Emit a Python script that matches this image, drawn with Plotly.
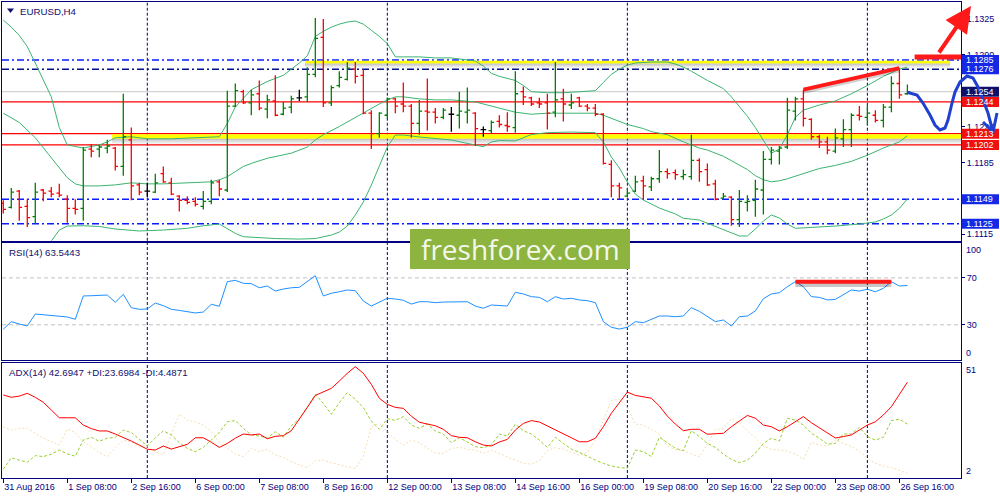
import plotly.graph_objects as go

# ---------------- data ----------------
n_bars = 114
bar_index = list(range(n_bars))
time_tick_bars = [0, 8, 16, 24, 32, 40, 48, 56, 64, 72, 80, 88, 96, 104, 112]
time_tick_labels = ["31 Aug 2016", "1 Sep 08:00", "2 Sep 16:00", "6 Sep 00:00", "7 Sep 08:00",
                    "8 Sep 16:00", "12 Sep 00:00", "13 Sep 08:00", "14 Sep 16:00", "16 Sep 00:00",
                    "19 Sep 08:00", "20 Sep 16:00", "22 Sep 00:00", "23 Sep 08:00", "26 Sep 16:00"]
week_separator_bars = [18, 48, 78, 108]

open_prices = [
    1.1145, 1.1141, 1.1157, 1.1142, 1.1132, 1.1158, 1.1157, 1.1155, 1.1149, 1.1140,
    1.1140, 1.1198, 1.1198, 1.1199, 1.1199, 1.1181, 1.1207, 1.1163, 1.1157, 1.1156,
    1.1174, 1.1165, 1.1152, 1.1148, 1.1147, 1.1142, 1.1147, 1.1166, 1.1158, 1.1240,
    1.1254, 1.1243, 1.1252, 1.1237, 1.1245, 1.1232, 1.1239, 1.1248, 1.1249, 1.1271,
    1.1307, 1.1243, 1.1260, 1.1266, 1.1276, 1.1270, 1.1233, 1.1213, 1.1231, 1.1247,
    1.1242, 1.1240, 1.1223, 1.1235, 1.1234, 1.1229, 1.1232, 1.1231, 1.1234, 1.1233,
    1.1217, 1.1216, 1.1225, 1.1221, 1.1219, 1.1254, 1.1248, 1.1243, 1.1243, 1.1234,
    1.1247, 1.1241, 1.1248, 1.1240, 1.1238, 1.1232, 1.1183, 1.1162, 1.1152, 1.1157,
    1.1167, 1.1161, 1.1169, 1.1176, 1.1175, 1.1171, 1.1171, 1.1187, 1.1178, 1.1164,
    1.1150, 1.1151, 1.1129, 1.1146, 1.1148, 1.1158, 1.1188, 1.1196, 1.1200, 1.1235,
    1.1247, 1.1227, 1.1210, 1.1205, 1.1196, 1.1208, 1.1217, 1.1231, 1.1229, 1.1231,
    1.1226, 1.1239, 1.1262, 1.1252]
high_prices = [
    1.1148, 1.1160, 1.1158, 1.1149, 1.1165, 1.1159, 1.1161, 1.1164, 1.1153, 1.1149,
    1.1200, 1.1203, 1.1202, 1.1207, 1.1200, 1.1252, 1.1219, 1.1165, 1.1165, 1.1174,
    1.1181, 1.1170, 1.1153, 1.1152, 1.1151, 1.1157, 1.1168, 1.1168, 1.1255, 1.1262,
    1.1256, 1.1256, 1.1265, 1.1251, 1.1270, 1.1244, 1.1250, 1.1256, 1.1278, 1.1326,
    1.1325, 1.1260, 1.1274, 1.1283, 1.1283, 1.1276, 1.1236, 1.1234, 1.1248, 1.1248,
    1.1263, 1.1242, 1.1246, 1.1267, 1.1238, 1.1238, 1.1239, 1.1254, 1.1258, 1.1234,
    1.1220, 1.1226, 1.1231, 1.1234, 1.1274, 1.1259, 1.1249, 1.1248, 1.1252, 1.1283,
    1.1257, 1.1252, 1.1249, 1.1242, 1.1242, 1.1233, 1.1187, 1.1165, 1.1160, 1.1172,
    1.1172, 1.1171, 1.1197, 1.1179, 1.1178, 1.1178, 1.1212, 1.1189, 1.1184, 1.1168,
    1.1155, 1.1152, 1.1158, 1.1153, 1.1168, 1.1196, 1.1200, 1.1201, 1.1248, 1.1249,
    1.1256, 1.1228, 1.1212, 1.1210, 1.1218, 1.1227, 1.1233, 1.1240, 1.1241, 1.1236,
    1.1242, 1.1269, 1.1277, 1.1261]
low_prices = [
    1.1135, 1.1140, 1.1128, 1.1122, 1.1125, 1.1147, 1.1151, 1.1151, 1.1126, 1.1134,
    1.1128, 1.1190, 1.1190, 1.1194, 1.1177, 1.1172, 1.1148, 1.1153, 1.1151, 1.1155,
    1.1165, 1.1153, 1.1137, 1.1144, 1.1142, 1.1139, 1.1144, 1.1152, 1.1156, 1.1239,
    1.1242, 1.1231, 1.1236, 1.1228, 1.1230, 1.1231, 1.1233, 1.1245, 1.1244, 1.1268,
    1.1239, 1.1240, 1.1258, 1.1265, 1.1262, 1.1232, 1.1198, 1.1209, 1.1228, 1.1233,
    1.1234, 1.1209, 1.1212, 1.1216, 1.1223, 1.1227, 1.1215, 1.1218, 1.1223, 1.1201,
    1.1210, 1.1213, 1.1219, 1.1215, 1.1214, 1.1241, 1.1240, 1.1238, 1.1217, 1.1229,
    1.1225, 1.1237, 1.1239, 1.1235, 1.1230, 1.1183, 1.1151, 1.1149, 1.1151, 1.1156,
    1.1149, 1.1157, 1.1165, 1.1169, 1.1168, 1.1168, 1.1168, 1.1166, 1.1162, 1.1148,
    1.1149, 1.1123, 1.1122, 1.1137, 1.1132, 1.1134, 1.1183, 1.1183, 1.1198, 1.1226,
    1.1220, 1.1207, 1.1199, 1.1193, 1.1194, 1.1200, 1.1200, 1.1226, 1.1222, 1.1224,
    1.1219, 1.1234, 1.1247, 1.1251]
close_prices = [
    1.1139, 1.1156, 1.1141, 1.1131, 1.1156, 1.1155, 1.1154, 1.1153, 1.1140, 1.1139,
    1.1197, 1.1196, 1.1200, 1.1201, 1.1181, 1.1210, 1.1162, 1.1156, 1.1157, 1.1165,
    1.1166, 1.1154, 1.1148, 1.1146, 1.1144, 1.1147, 1.1165, 1.1159, 1.1240, 1.1255,
    1.1243, 1.1251, 1.1238, 1.1246, 1.1231, 1.1238, 1.1247, 1.1248, 1.1271, 1.1306,
    1.1243, 1.1258, 1.1268, 1.1277, 1.1269, 1.1233, 1.1213, 1.1233, 1.1247, 1.1240,
    1.1240, 1.1223, 1.1235, 1.1234, 1.1229, 1.1236, 1.1232, 1.1235, 1.1236, 1.1218,
    1.1217, 1.1224, 1.1222, 1.1220, 1.1252, 1.1249, 1.1242, 1.1242, 1.1233, 1.1246,
    1.1242, 1.1243, 1.1240, 1.1238, 1.1232, 1.1184, 1.1162, 1.1160, 1.1155, 1.1166,
    1.1162, 1.1169, 1.1176, 1.1174, 1.1173, 1.1173, 1.1187, 1.1176, 1.1163, 1.1149,
    1.1152, 1.1129, 1.1147, 1.1147, 1.1159, 1.1188, 1.1197, 1.1199, 1.1236, 1.1247,
    1.1228, 1.1210, 1.1205, 1.1197, 1.1209, 1.1217, 1.1231, 1.1230, 1.1233, 1.1226,
    1.1239, 1.1262, 1.1251, 1.1254]

bb_upper_bars = [0, 1, 2, 3, 4, 5, 6, 7, 8, 10, 12, 13, 14, 16, 18, 21, 25, 27, 28, 29,
                 31, 33, 35, 37, 38, 39, 40, 41, 42, 43, 44, 45, 46, 47, 48, 49, 50,
                 52, 54, 56, 59, 60, 61, 62, 64, 65, 66, 68, 70, 73, 74, 75, 76, 77, 78, 79,
                 81, 83, 84, 85, 86, 88, 90, 91, 92, 93, 94, 95, 96, 97, 98, 99, 100,
                 102, 104, 106, 108, 110, 112, 113]
bb_upper = [1.1324, 1.1317, 1.1309, 1.1298, 1.1282, 1.1265, 1.1249, 1.1219, 1.1202,
            1.1199, 1.1202, 1.1205, 1.1209, 1.1210, 1.1208, 1.1208, 1.1209, 1.1210, 1.1223, 1.1239,
            1.1256, 1.1264, 1.1270, 1.1282, 1.1289, 1.1308, 1.1313, 1.1317, 1.1320, 1.1322, 1.1323,
            1.1320, 1.1314, 1.1308, 1.1301, 1.1288, 1.1288,
            1.1288, 1.1287, 1.1287, 1.1284, 1.1279, 1.1272, 1.1269, 1.1265, 1.1260, 1.1254, 1.1253,
            1.1253, 1.1254, 1.1255, 1.1263, 1.1271, 1.1276, 1.1280, 1.1282,
            1.1283, 1.1283, 1.1281, 1.1278, 1.1274, 1.1265, 1.1257, 1.1249, 1.1240, 1.1230, 1.1219,
            1.1206, 1.1194, 1.1198, 1.1212, 1.1229, 1.1236,
            1.1241, 1.1245, 1.1252, 1.1260, 1.1269, 1.1276, 1.1278]

bb_middle_bars = [0, 2, 4, 6, 8, 9, 10, 12, 14, 16, 18, 20, 23, 25, 26, 27, 28, 29, 30, 31,
                  33, 36, 38, 39, 40, 42, 44, 46, 47, 48, 49, 50, 51, 52, 54, 56, 59, 60, 61, 62,
                  64, 66, 68, 70, 74, 75, 76, 78, 80, 81, 83, 85, 87, 88, 90, 92, 93, 94, 95, 96,
                  97, 98, 100, 102, 104, 106, 108, 110, 112, 113]
bb_middle = [1.1233, 1.1224, 1.1209, 1.1189, 1.1170, 1.1164, 1.1162, 1.1162, 1.1163, 1.1165,
             1.1164, 1.1164, 1.1165, 1.1165, 1.1166, 1.1168, 1.1171, 1.1176, 1.1181, 1.1184,
             1.1189, 1.1194, 1.1200, 1.1207, 1.1212, 1.1220, 1.1229, 1.1238, 1.1242, 1.1246,
             1.1249, 1.1249, 1.1248, 1.1247, 1.1246, 1.1246, 1.1244, 1.1242, 1.1240, 1.1238,
             1.1234, 1.1232, 1.1233, 1.1233, 1.1233, 1.1231, 1.1228, 1.1222, 1.1218, 1.1215,
             1.1212, 1.1205, 1.1199, 1.1197, 1.1191, 1.1182, 1.1178, 1.1172, 1.1168, 1.1166,
             1.1167, 1.1169, 1.1174, 1.1179, 1.1182, 1.1186, 1.1192, 1.1199, 1.1205, 1.1211]

bb_lower_bars = [6, 7, 8, 10, 12, 14, 17, 20, 23, 25, 27, 28, 29, 30, 31, 34, 37, 39, 41, 42,
                 43, 44, 45, 46, 47, 48, 49, 50, 52, 54, 56, 59, 60, 61, 62, 64, 66, 68, 71, 74,
                 75, 76, 77, 78, 79, 80, 82, 84, 85, 87, 89, 91, 92, 93, 94, 95, 96, 97, 98, 99,
                 101, 104, 107, 109, 110, 111, 112, 113]
bb_lower = [1.11082, 1.11189, 1.11228, 1.11231, 1.11224, 1.11199, 1.11180, 1.11189, 1.11206, 1.11231,
            1.11248, 1.11199, 1.11157, 1.11124, 1.11118, 1.11106, 1.11101, 1.11106, 1.11140, 1.11170,
            1.11228, 1.11336, 1.11463, 1.11629, 1.11814, 1.12000, 1.12117, 1.12117, 1.12098, 1.12085,
            1.12068, 1.12019, 1.12003, 1.12049, 1.12063, 1.12059, 1.12122, 1.12140, 1.12146, 1.12140,
            1.12049, 1.11902, 1.11795, 1.11658, 1.11540, 1.11482, 1.11404, 1.11346, 1.11304, 1.11287,
            1.11224, 1.11160, 1.11131, 1.11131, 1.11199, 1.11277, 1.11336, 1.11307, 1.11248, 1.11206,
            1.11214, 1.11228, 1.11248, 1.11268, 1.11297, 1.11336, 1.11401, 1.11492]

rsi_values = [
    26.2, 32.7, 30.7, 29.0, 39.2, 38.6, 38.1, 37.5, 36.7, 34.7,
    54.6, 54.8, 55.1, 55.4, 49.2, 56.0, 44.6, 43.2, 43.5, 48.6,
    46.3, 43.2, 42.3, 41.2, 40.1, 40.9, 47.5, 45.8, 66.8, 67.9,
    65.4, 65.1, 61.6, 63.1, 58.8, 60.5, 61.6, 62.0, 66.8, 71.9,
    54.6, 56.9, 58.2, 59.7, 59.1, 50.3, 46.0, 49.4, 52.6, 52.0,
    50.9, 47.7, 49.7, 49.7, 48.9, 49.4, 49.7, 50.0, 49.7, 46.0,
    44.1, 46.9, 46.6, 46.0, 57.7, 56.3, 54.0, 53.4, 49.7, 54.0,
    52.0, 52.6, 51.2, 50.6, 48.9, 32.7, 27.9, 26.4, 27.9, 32.7,
    31.8, 34.7, 37.5, 37.5, 36.9, 37.5, 44.6, 41.5, 36.9, 32.7,
    34.1, 29.0, 36.9, 37.5, 41.8, 52.3, 56.3, 57.4, 62.5, 66.8,
    62.5, 54.0, 53.4, 51.2, 51.7, 55.4, 59.7, 58.8, 60.3, 58.2,
    61.1, 66.8, 63.1, 63.5]
adx_values = [
    37.3, 36.3, 36.8, 38.0, 36.3, 34.2, 30.9, 27.6, 27.6, 27.6,
    24.5, 23.0, 22.0, 22.0, 20.7, 19.3, 17.7, 16.0, 14.2, 13.9,
    15.6, 14.3, 15.3, 16.3, 19.1, 19.1, 17.2, 15.0, 16.7, 18.9,
    20.7, 20.3, 20.7, 18.7, 19.7, 20.0, 22.1, 26.9, 32.0, 37.1,
    38.5, 40.1, 43.2, 46.5, 49.3, 46.5, 41.8, 35.9, 33.3, 32.0,
    31.6, 28.3, 25.7, 24.8, 24.2, 22.7, 20.0, 19.3, 19.1, 17.4,
    16.0, 15.6, 17.3, 18.4, 22.4, 25.2, 26.4, 25.8, 24.2, 22.5,
    20.8, 19.1, 17.4, 17.4, 18.9, 23.8, 29.5, 34.0, 38.5, 37.1,
    36.4, 35.9, 32.6, 28.3, 24.9, 22.1, 22.7, 22.7, 20.6, 20.7,
    21.0, 23.8, 26.4, 28.6, 27.4, 24.5, 23.8, 22.0, 23.8, 25.9,
    28.1, 25.5, 23.4, 21.3, 19.0, 19.6, 20.3, 22.4, 24.5, 25.9,
    28.8, 32.3, 37.3, 42.7]
plus_di_values = [
    5.7, 10.6, 9.6, 8.7, 11.5, 11.1, 12.1, 13.9, 12.2, 11.3,
    18.1, 19.3, 17.6, 18.9, 19.3, 22.4, 21.3, 18.4, 15.6, 19.1,
    22.0, 20.3, 17.0, 14.6, 13.2, 15.0, 18.1, 21.3, 25.9, 26.4,
    23.1, 20.3, 19.8, 19.0, 21.7, 19.3, 24.2, 27.2, 32.0, 37.6,
    33.7, 29.1, 34.0, 38.3, 35.4, 31.9, 26.2, 22.7, 27.2, 26.5,
    28.1, 24.5, 23.1, 24.9, 22.0, 20.7, 17.0, 19.1, 17.3, 15.3,
    14.9, 16.0, 20.7, 19.8, 24.9, 22.1, 20.7, 18.1, 15.0, 19.3,
    16.7, 14.3, 12.9, 11.1, 9.6, 8.2, 7.1, 6.5, 6.1, 13.9,
    13.2, 11.1, 19.3, 17.0, 14.6, 13.6, 22.1, 19.6, 16.7, 15.0,
    12.1, 9.9, 8.5, 9.6, 12.5, 16.7, 18.9, 17.7, 27.4, 26.6,
    24.5, 21.0, 18.9, 16.4, 16.7, 20.7, 20.7, 23.5, 19.6, 18.1,
    19.3, 26.4, 27.0, 24.9]
minus_di_values = [
    23.8, 22.4, 23.1, 23.1, 21.0, 18.9, 17.4, 16.0, 22.8, 21.3,
    17.4, 15.3, 12.8, 11.1, 15.0, 18.1, 17.4, 15.3, 15.3, 13.2,
    11.8, 20.3, 29.2, 26.6, 25.9, 24.5, 21.7, 17.0, 14.6, 12.2,
    11.1, 14.6, 13.2, 14.2, 11.8, 10.8, 8.9, 7.7, 6.4, 9.4,
    9.6, 8.5, 7.5, 6.8, 6.1, 11.1, 23.8, 25.2, 21.7, 18.4,
    16.0, 18.1, 17.0, 14.6, 12.5, 12.5, 14.6, 15.0, 14.2, 13.9,
    12.5, 13.9, 12.5, 11.1, 9.6, 8.2, 7.9, 9.4, 13.6, 14.9,
    14.2, 12.8, 11.6, 12.8, 18.1, 26.4, 35.1, 35.4, 32.3, 24.9,
    24.5, 22.7, 20.6, 15.6, 13.9, 13.9, 12.1, 11.1, 16.4, 22.7,
    22.8, 27.2, 25.5, 22.0, 19.1, 15.6, 14.2, 13.9, 13.5, 12.1,
    9.9, 17.2, 16.0, 15.6, 18.1, 16.7, 15.3, 13.5, 10.4, 8.2,
    7.1, 6.5, 5.1, 4.0]

# visible price-scale ticks (the others are hidden under the level labels)
price_ticks = [1.1325, 1.1290, 1.1220, 1.1185, 1.1115]
blue_levels = [1.1285, 1.1276, 1.1149, 1.1125]
red_levels = [1.1244, 1.1213, 1.1202]
bid_price = 1.1254

assert len(bb_upper_bars) == len(bb_upper)
assert len(bb_middle_bars) == len(bb_middle)
assert len(bb_lower_bars) == len(bb_lower)

# ---------------- geometry / style ----------------
NAVY = "#000080"
FONT = "Liberation Sans, Arial, sans-serif"
FIG_W, FIG_H = 1000, 500
M_L, M_R, M_T, M_B = 2, 39, 2, 22
PLOT_W = FIG_W - M_L - M_R
PLOT_H = FIG_H - M_T - M_B
X_RANGE = [-0.16, 119.7]
MAIN_RANGE = [1.110849, 1.134160]
RSI_RANGE = [0, 100]
ADX_RANGE = [2, 51]
DOM_MAIN = [0.4985, 1.0]
DOM_RSI = [0.2479, 0.4943]
DOM_ADX = [0.0, 0.2422]
TICK = 0.35


def px_paper(x, y):
    return (x - M_L) / PLOT_W, (FIG_H - M_B - y) / PLOT_H


def price_paper(v):
    frac = (v - MAIN_RANGE[0]) / (MAIN_RANGE[1] - MAIN_RANGE[0])
    return DOM_MAIN[0] + frac * (DOM_MAIN[1] - DOM_MAIN[0])


fig = go.Figure()

# Bollinger bands
for xs, ys in [(bb_upper_bars, bb_upper), (bb_middle_bars, bb_middle), (bb_lower_bars, bb_lower)]:
    fig.add_trace(go.Scatter(x=xs, y=ys, mode="lines", line=dict(color="#3CB371", width=1),
                             xaxis="x", yaxis="y", hoverinfo="skip"))


def bar_path(indices):
    xs, ys = [], []
    for i in indices:
        o, h, l, c = open_prices[i], high_prices[i], low_prices[i], close_prices[i]
        xs += [i, i, None, i - TICK, i, None, i, i + TICK, None]
        ys += [l, h, None, o, o, None, c, c, None]
    return xs, ys


up = [i for i in bar_index if close_prices[i] > open_prices[i]]
down = [i for i in bar_index if close_prices[i] < open_prices[i]]
doji = [i for i in bar_index if close_prices[i] == open_prices[i]]
for sel, col in [(up, "#008000"), (down, "#ff0000"), (doji, "#000000")]:
    xs, ys = bar_path(sel)
    fig.add_trace(go.Scatter(x=xs, y=ys, mode="lines", line=dict(color=col, width=1.3),
                             xaxis="x", yaxis="y", hoverinfo="skip", connectgaps=False))

# RSI
fig.add_trace(go.Scatter(x=bar_index, y=rsi_values, mode="lines", line=dict(color="#1E90FF", width=1),
                         xaxis="x2", yaxis="y2", hoverinfo="skip"))
# ADX
fig.add_trace(go.Scatter(x=bar_index, y=minus_di_values, mode="lines",
                         line=dict(color="#F5DEB3", width=1, dash="2px,2px"),
                         xaxis="x3", yaxis="y3", hoverinfo="skip"))
fig.add_trace(go.Scatter(x=bar_index, y=plus_di_values, mode="lines",
                         line=dict(color="#9ACD32", width=1, dash="3px,2px"),
                         xaxis="x3", yaxis="y3", hoverinfo="skip"))
fig.add_trace(go.Scatter(x=bar_index, y=adx_values, mode="lines", line=dict(color="#ff0000", width=1),
                         xaxis="x3", yaxis="y3", hoverinfo="skip"))

# ---------------- shapes ----------------
shapes = []
for b in week_separator_bars:
    for yr in ["y domain", "y2 domain", "y3 domain"]:
        shapes.append(dict(type="line", xref="x", yref=yr, x0=b, x1=b, y0=0, y1=1,
                           line=dict(color=NAVY, width=1, dash="3px,2px"), layer="below"))


def zone(x0, x1, y_bot, y_top, depth):
    out = [dict(type="rect", xref="x", yref="y", x0=x0, x1=x1, y0=y_bot, y1=y_top,
                fillcolor="#ffff00", line=dict(width=0), layer="below")]
    step = depth / 4
    for k, op in enumerate([0.45, 0.3, 0.17, 0.07]):
        out.append(dict(type="rect", xref="x", yref="y", x0=x0, x1=x1,
                        y0=y_bot - (k + 1) * step, y1=y_bot - k * step,
                        fillcolor="#808080", opacity=op, line=dict(width=0), layer="below"))
    return out


shapes += zone(37.7, 118.35, 1.12815, 1.12843, 0.0005)
shapes += zone(13.6, X_RANGE[1], 1.12081, 1.12124, 0.0006)

shapes.append(dict(type="line", xref="paper", yref="y", x0=0, x1=1, y0=bid_price, y1=bid_price,
                   line=dict(color="#c8c8c8", width=1), layer="below"))
for lv in red_levels:
    shapes.append(dict(type="line", xref="paper", yref="y", x0=0, x1=1, y0=lv, y1=lv,
                       line=dict(color="#ff0000", width=1.2), layer="below"))
for lv, col in zip(blue_levels, ["#0a1cff", "#00108c", "#0a1cff", "#0a1cff"]):
    shapes.append(dict(type="line", xref="paper", yref="y", x0=0, x1=1, y0=lv, y1=lv,
                       line=dict(color=col, width=1.4, dash="7px,3px,2px,3px"), layer="below"))
for lv in [30, 70]:
    shapes.append(dict(type="line", xref="paper", yref="y2", x0=0, x1=1, y0=lv, y1=lv,
                       line=dict(color="#c0c0c0", width=1, dash="4px,3px"), layer="below"))

# trend line on highs
shapes.append(dict(type="line", xref="x", yref="y", x0=100, x1=112,
                   y0=high_prices[100] - 0.0002, y1=high_prices[112] - 0.0002,
                   line=dict(color="rgba(0,0,0,0.18)", width=4), layer="above"))
shapes.append(dict(type="line", xref="x", yref="y", x0=100, x1=112,
                   y0=high_prices[100], y1=high_prices[112],
                   line=dict(color="#ff1a1a", width=4), layer="above"))
# RSI line
shapes.append(dict(type="line", xref="x2", yref="y2", x0=99, x1=111,
                   y0=rsi_values[99] - 2.5, y1=rsi_values[111] - 2.5,
                   line=dict(color="rgba(0,0,0,0.22)", width=5), layer="above"))
shapes.append(dict(type="line", xref="x2", yref="y2", x0=99, x1=111,
                   y0=rsi_values[99], y1=rsi_values[111],
                   line=dict(color="#ff1a1a", width=4), layer="above"))
# breakout bar
shapes.append(dict(type="line", xref="x", yref="y", x0=113.9, x1=X_RANGE[1], y0=1.1288, y1=1.1288,
                   line=dict(color="#ff1a1a", width=5), layer="above"))

# watermark box
wx0, wy0 = px_paper(410, 269)
wx1, wy1 = px_paper(630, 229)
shapes.append(dict(type="rect", xref="paper", yref="paper", x0=wx0, x1=wx1, y0=wy0, y1=wy1,
                   fillcolor="#8db43e", line=dict(width=0), layer="above"))
# menu triangle
t = [px_paper(7, 8.5), px_paper(14, 8.5), px_paper(10.5, 13)]
shapes.append(dict(type="path", xref="paper", yref="paper",
                   path=f"M {t[0][0]},{t[0][1]} L {t[1][0]},{t[1][1]} L {t[2][0]},{t[2][1]} Z",
                   fillcolor="#10106e", line=dict(width=0), layer="above"))

# price level labels on the scale (boxes as shapes, text as annotations)
label_boxes = [(1.1285, "#1428e6"), (1.1276, "#1428e6"), (1.1254, "#10106a"), (1.1244, "#f01010"),
               (1.1213, "#f01010"), (1.1202, "#f01010"), (1.1149, "#1428e6"), (1.1125, "#1428e6")]
half_box = 5.0 / PLOT_H
bx0 = 1.0 + 0.5 / PLOT_W
bx1 = (FIG_W - 1 - M_L) / PLOT_W
for v, col in label_boxes:
    yc = price_paper(v)
    shapes.append(dict(type="rect", xref="paper", yref="paper", x0=bx0, x1=bx1,
                       y0=yc - half_box, y1=yc + half_box, fillcolor=col,
                       line=dict(width=0), layer="above"))

# forecast sketch (hand drawing overlay, pixel positions)
BLUE = "#2040d0"
forecast_sketch_px = [(907, 92.3), (917, 95), (923, 103), (930, 115), (935, 125), (940, 130),
                      (945, 128), (948, 120), (952, 103), (955, 92), (960, 82), (967, 76),
                      (973, 78), (978, 87), (983, 100), (988, 113), (993, 132)]
sketch_head_px = [(983, 122), (993, 132), (997, 113)]


def path_from(points):
    parts = []
    for k, (x, y) in enumerate(points):
        px_, py_ = px_paper(x, y)
        parts.append(("M" if k == 0 else "L") + f" {px_:.5f},{py_:.5f}")
    return " ".join(parts)


shapes.append(dict(type="path", xref="paper", yref="paper",
                   path=path_from(forecast_sketch_px) + " " + path_from(sketch_head_px),
                   line=dict(color=BLUE, width=3), layer="above"))

# ---------------- annotations ----------------
ann = []
tf = dict(family=FONT, color="#10106e", size=9.7)
for txt, x, y in [("EURUSD,H4", 18, 11), ("RSI(14) 63.5443", 7, 252),
                  ("ADX(14) 42.6947 +DI:23.6984 -DI:4.4871", 7, 372)]:
    px_, py_ = px_paper(x, y)
    ann.append(dict(x=px_, y=py_, xref="paper", yref="paper", text=txt, showarrow=False,
                    xanchor="left", yanchor="middle", font=tf))

axf = dict(family=FONT, color=NAVY, size=9)
for txt, yv, yr, anc in [("100", 100, "y2", "top"), ("0", 0, "y2", "bottom"),
                         ("51", 51, "y3", "top"), ("2", 2, "y3", "bottom")]:
    ann.append(dict(x=1, y=yv, xref="paper", yref=yr, text=txt, showarrow=False,
                    xanchor="left", yanchor=anc, xshift=3, font=axf))

for v, col in label_boxes:
    ann.append(dict(x=1, y=price_paper(v), xref="paper", yref="paper", text=f"{v:.4f}",
                    showarrow=False, xanchor="left", yanchor="middle", xshift=3,
                    font=dict(family=FONT, color="white", size=9)))

wcx, wcy = px_paper(520, 249)
ann.append(dict(x=wcx, y=wcy, xref="paper", yref="paper", text="freshforex.com", showarrow=False,
                xanchor="center", yanchor="middle",
                font=dict(family="Open Sans", size=28, color="#f4f8ec")))

# breakout arrow
hx, hy = px_paper(971, 6)
ann.append(dict(x=hx, y=hy, xref="paper", yref="paper", ax=938 - 971, ay=54 - 6,
                axref="pixel", ayref="pixel", showarrow=True, arrowhead=2, arrowsize=1.3,
                arrowwidth=4, arrowcolor="#ff1a1a", text="", standoff=0))

axis_common = dict(showgrid=False, zeroline=False, showline=True, mirror=True,
                   linecolor=NAVY, linewidth=1)
fig.update_layout(
    width=FIG_W, height=FIG_H, margin=dict(l=M_L, r=M_R, t=M_T, b=M_B, pad=0),
    paper_bgcolor="white", plot_bgcolor="white", showlegend=False, hovermode=False,
    font=dict(family=FONT, color=NAVY),
    xaxis=dict(domain=[0, 1], anchor="y", range=X_RANGE, showticklabels=False, ticks="", **axis_common),
    xaxis2=dict(domain=[0, 1], anchor="y2", matches="x", range=X_RANGE, showticklabels=False,
                ticks="", **axis_common),
    xaxis3=dict(domain=[0, 1], anchor="y3", matches="x", range=X_RANGE, tickmode="array",
                tickvals=time_tick_bars, ticktext=time_tick_labels, ticks="outside", ticklen=4,
                tickcolor=NAVY, ticklabelposition="outside right", tickfont=axf, **axis_common),
    yaxis=dict(domain=DOM_MAIN, anchor="x", side="right", range=MAIN_RANGE, tickmode="array",
               tickvals=price_ticks, ticktext=[f"{v:.4f}" for v in price_ticks], ticks="outside",
               ticklen=3, tickcolor=NAVY, tickfont=axf, **axis_common),
    yaxis2=dict(domain=DOM_RSI, anchor="x2", side="right", range=RSI_RANGE, tickmode="array",
                tickvals=[30, 70], ticktext=["30", "70"], ticks="outside", ticklen=3,
                tickcolor=NAVY, tickfont=axf, **axis_common),
    yaxis3=dict(domain=DOM_ADX, anchor="x3", side="right", range=ADX_RANGE, showticklabels=False,
                ticks="", **axis_common),
    shapes=shapes, annotations=ann,
)

fig.write_html("out.html", config={"displayModeBar": False},
               post_script="document.body.style.margin='0px';document.body.style.overflow='hidden';")
